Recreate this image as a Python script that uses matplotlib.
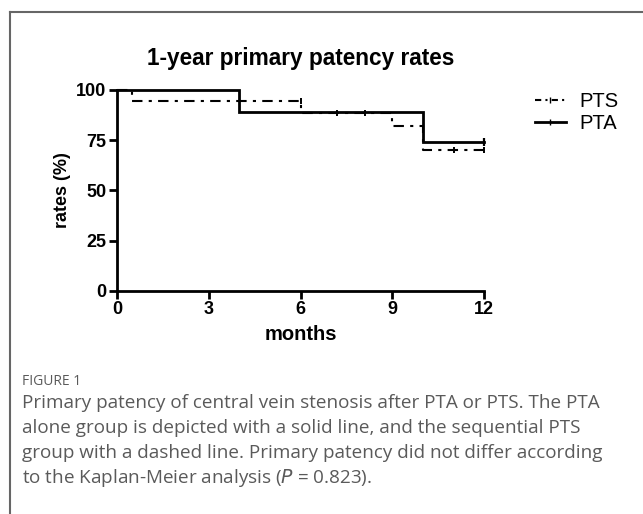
import matplotlib
matplotlib.use("Agg")
import matplotlib.pyplot as plt
from matplotlib.lines import Line2D

plt.rcParams["font.family"] = ["Liberation Sans", "DejaVu Sans"]

# ---------- Data ----------
pta_months = [0, 4, 4, 10, 10, 12]
pta_rates = [100, 100, 89, 89, 74, 74]
pts_months = [0, 0.5, 0.5, 6, 6, 9, 9, 10, 10, 12]
pts_rates = [100, 100, 94.5, 94.5, 88.5, 88.5, 82, 82, 70, 70]
pta_censor_m = [12]
pta_censor_r = [74]
pts_censor_m = [6, 7.2, 8.1, 11, 12]
pts_censor_r = [94.5, 88.5, 88.5, 70, 70]
x_ticks = [0, 3, 6, 9, 12]
y_ticks = [0, 25, 50, 75, 100]

caption_lines = [
    "Primary patency of central vein stenosis after PTA or PTS. The PTA",
    "alone group is depicted with a solid line, and the sequential PTS",
    "group with a dashed line. Primary patency did not differ according",
    "to the Kaplan-Meier analysis ($\\it{P}$ = 0.823).",
]

fig = plt.figure(figsize=(6.43, 5.14), dpi=100)
ax = fig.add_axes([0.182, 0.434, 0.571, 0.391])

ax.plot(pta_months, pta_rates, color="black", lw=2, clip_on=False, solid_joinstyle="miter")
ax.plot(pts_months, pts_rates, color="black", lw=1.5, ls=(0, (5, 3, 1.5, 3)), clip_on=False)
ax.plot(pta_censor_m, pta_censor_r, ls="none", marker="|", ms=6, mew=1.6, color="black", clip_on=False)
ax.plot(pts_censor_m, pts_censor_r, ls="none", marker="|", ms=5, mew=1.4, color="black", clip_on=False)

ax.set_xlim(0, 12)
ax.set_ylim(0, 100)
ax.set_xticks(x_ticks)
ax.set_yticks(y_ticks)
for s in ["top", "right"]:
    ax.spines[s].set_visible(False)
for s in ["left", "bottom"]:
    ax.spines[s].set_linewidth(2)
ax.tick_params(width=2, length=6, labelsize=13, pad=1.5)
for lab in ax.get_xticklabels() + ax.get_yticklabels():
    lab.set_fontweight("bold")

ax.set_xlabel("months", fontsize=14.5, fontweight="bold", labelpad=5)
ax.set_ylabel("rates (%)", fontsize=13, fontweight="bold", labelpad=4)
ax.set_title("1-year primary patency rates", fontsize=16.3, fontweight="bold", pad=18)

handles = [
    Line2D([], [], color="black", lw=1.5, ls=(0, (3, 2, 1, 2)), marker="|", ms=4),
    Line2D([], [], color="black", lw=2, marker="|", ms=5),
]
ax.legend(handles, ["PTS", "PTA"], loc="upper left", bbox_to_anchor=(1.09, 1.08),
          frameon=False, fontsize=14.5, handlelength=1.5, handletextpad=0.7, labelspacing=0.15)

# ---------- Border and caption ----------
fig.add_artist(Line2D([0.015, 0.015], [0, 0.976], color="#666666", lw=1.5, transform=fig.transFigure))
fig.add_artist(Line2D([0.015, 1.0], [0.976, 0.976], color="#666666", lw=1.5, transform=fig.transFigure))

fig.text(0.034, 0.258, "FIGURE 1", fontsize=10, color="#5a5a5a", family="Open Sans", va="center")
for i, line in enumerate(caption_lines):
    fig.text(0.034, 0.216 - i * 0.0487, line, fontsize=13.6, color="#5a5a5a",
             family="Open Sans", va="center")

plt.savefig("out.png", dpi=100)
